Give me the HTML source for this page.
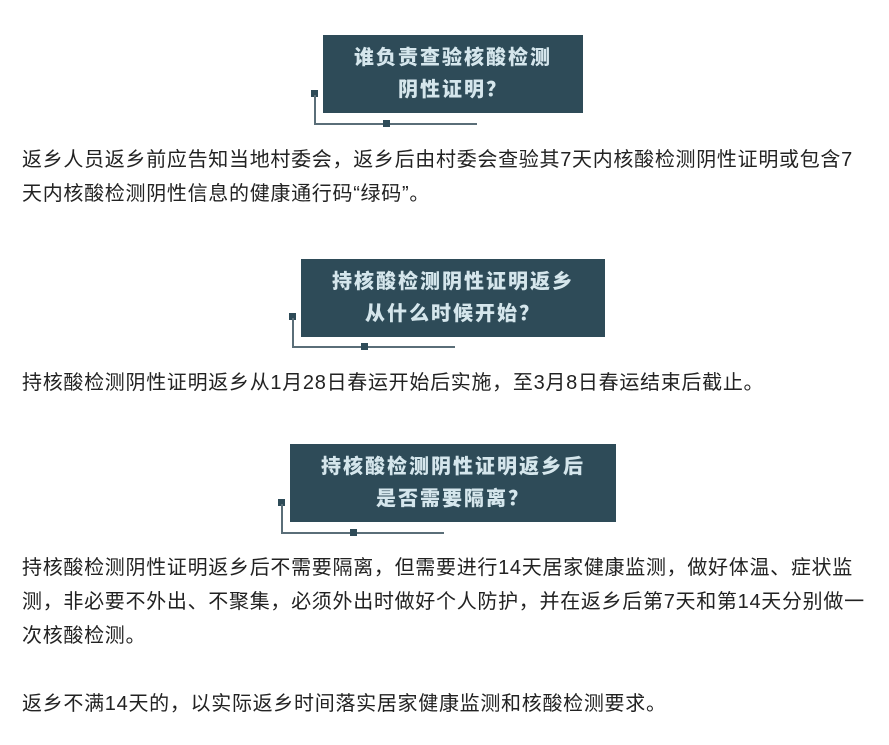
<!DOCTYPE html>
<html><head><meta charset="utf-8"><style>
body{margin:0;width:889px;height:745px;background:#fff;position:relative;overflow:hidden;font-family:"Liberation Sans","Noto Sans CJK SC",sans-serif;}
.box{position:absolute;background:#2e4b58;color:#d5e6ec;font-weight:900;font-size:20px;line-height:32px;text-align:center;letter-spacing:2px;box-sizing:border-box;padding-top:7px}
.sq{position:absolute;width:7px;height:7px;background:#2e4b58}
.v{position:absolute;width:2px;background:#5a6e78}
.h{position:absolute;height:2px;background:#5a6e78}
.p{position:absolute;left:22px;white-space:nowrap;font-size:20px;line-height:34px;color:#222;letter-spacing:0.7px}
</style></head><body>
<div class="box" style="left:323px;top:35px;width:260px;height:78px">谁负责查验核酸检测<br>阴性证明？</div>
<div class="sq" style="left:311px;top:90px"></div><div class="v" style="left:314px;top:95px;height:30px"></div><div class="h" style="left:314px;top:123px;width:163px"></div><div class="sq" style="left:383px;top:120px"></div>
<div class="p" style="top:143px">返乡人员返乡前应告知当地村委会，返乡后由村委会查验其7天内核酸检测阴性证明或包含7<br>天内核酸检测阴性信息的健康通行码“绿码”。</div>

<div class="box" style="left:301px;top:259px;width:304px;height:78px">持核酸检测阴性证明返乡<br>从什么时候开始？</div>
<div class="sq" style="left:289px;top:313px"></div><div class="v" style="left:292px;top:318px;height:30px"></div><div class="h" style="left:292px;top:346px;width:163px"></div><div class="sq" style="left:361px;top:343px"></div>
<div class="p" style="top:366px">持核酸检测阴性证明返乡从1月28日春运开始后实施，至3月8日春运结束后截止。</div>

<div class="box" style="left:290px;top:444px;width:326px;height:78px">持核酸检测阴性证明返乡后<br>是否需要隔离？</div>
<div class="sq" style="left:278px;top:499px"></div><div class="v" style="left:281px;top:504px;height:30px"></div><div class="h" style="left:281px;top:532px;width:163px"></div><div class="sq" style="left:350px;top:529px"></div>
<div class="p" style="top:551px">持核酸检测阴性证明返乡后不需要隔离，但需要进行14天居家健康监测，做好体温、症状监<br>测，非必要不外出、不聚集，必须外出时做好个人防护，并在返乡后第7天和第14天分别做一<br>次核酸检测。</div>
<div class="p" style="top:687px">返乡不满14天的，以实际返乡时间落实居家健康监测和核酸检测要求。</div>
</body></html>
